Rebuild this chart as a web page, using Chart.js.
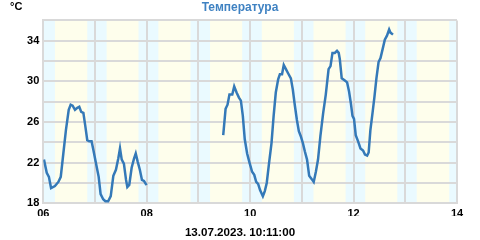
<!DOCTYPE html>
<html>
<head>
<meta charset="utf-8">
<script src="https://cdn.jsdelivr.net/npm/chart.js@4.4.0/dist/chart.umd.min.js"></script>
<style>
  html, body { margin: 0; padding: 0; background: #fff; }
  #wrap { width: 480px; height: 240px; }
</style>
</head>
<body>
<div id="wrap"><canvas id="chartTemp" width="480" height="240"></canvas></div>
<script>
// hours since 06.07 00:00, two recorded stretches with a gap between them
const hours1 = [0.3, 1.6, 2.6, 3.6, 5.4, 7.0, 8.1, 9.3, 10.5, 11.8, 12.7, 13.6, 14.7, 15.8, 16.7, 17.6, 18.6, 19.5, 20.4, 21.3, 22.4, 23.2, 24.4, 25.7, 26.6, 27.8, 28.8, 30.1, 31.3, 32.5, 33.7, 34.8, 35.6, 36.4, 37.4, 38.4, 39.0, 39.9, 41.0, 42.1, 42.9, 43.8, 44.8, 45.8, 46.7, 47.6, 48];
const temps1 = [22.3, 21.0, 20.6, 19.5, 19.7, 20.1, 20.6, 22.9, 25.2, 27.2, 27.7, 27.6, 27.2, 27.4, 27.5, 27.0, 26.9, 25.6, 24.2, 24.1, 24.1, 23.3, 22.0, 20.6, 18.9, 18.4, 18.2, 18.2, 18.7, 20.7, 21.3, 22.4, 23.4, 22.3, 21.9, 20.3, 19.6, 19.8, 21.5, 22.4, 22.9, 22.1, 21.3, 20.3, 20.2, 19.9, 19.8];

const hours2 = [83.5, 84.6, 85.5, 86.4, 87.7, 88.6, 89.7, 90.8, 91.7, 92.6, 93.5, 94.6, 95.7, 96.9, 97.9, 98.8, 99.7, 100.6, 101.9, 102.8, 103.7, 104.8, 105.9, 106.9, 107.9, 109.0, 109.8, 110.8, 111.6, 112.6, 113.6, 114.9, 115.8, 116.7, 117.7, 118.6, 119.5, 120.5, 121.4, 122.4, 123.4, 124.5, 125.5, 126.5, 127.5, 128.6, 129.9, 131.1, 132.4, 133.3, 134.2, 135.3, 136.3, 137.1, 137.6, 138.5, 139.8, 141.0, 141.9, 142.7, 143.5, 144.2, 145.0, 146.1, 147.2, 148.4, 149.3, 150.3, 151.0, 151.8, 152.8, 153.7, 154.6, 155.6, 156.5, 157.4, 158.5, 159.5, 160.5, 161.1, 162.3];
const temps2 = [24.7, 27.3, 27.7, 28.7, 28.7, 29.5, 28.9, 28.4, 28.1, 26.6, 24.3, 22.9, 22.0, 21.1, 20.8, 20.1, 19.9, 19.3, 18.7, 19.2, 20.0, 22.0, 23.9, 26.6, 28.9, 30.2, 30.7, 30.7, 31.6, 31.2, 30.8, 30.3, 29.2, 27.7, 26.2, 25.1, 24.6, 23.9, 23.1, 22.3, 20.7, 20.4, 20.1, 21.1, 22.3, 24.6, 26.9, 28.7, 31.2, 31.5, 32.8, 32.8, 33.0, 32.8, 32.2, 30.3, 30.1, 29.9, 29.0, 27.9, 26.6, 26.3, 24.7, 24.1, 23.4, 23.2, 22.8, 22.7, 23.0, 25.2, 26.9, 28.5, 30.3, 31.9, 32.3, 33.1, 34.1, 34.5, 35.1, 34.8, 34.6];

const xTickLabels = ['06', '08', '10', '12', '14'];
const yTickLabels = ['18', '22', '26', '30', '34'];

// daylight (hour of day) for each of the 8 days shown
const sunrise = [5.4, 5.4, 5.4, 5.4, 5.4, 5.4, 5.4, 5.3];
const sunset  = [20.4, 20.2, 20.3, 20.3, 20.3, 20.3, 20.3, 20.4];

const FONT = "'Liberation Sans', Arial, sans-serif";
const LINE = '#3479b8';
const GRID = '#d9d9d9';

// day / night background bands
const bandsPlugin = {
  id: 'bands',
  beforeDraw(chart) {
    const { ctx, chartArea: a, scales: { x } } = chart;
    ctx.save();
    ctx.fillStyle = '#eafaff';
    ctx.fillRect(a.left, a.top, a.right - a.left, a.bottom - a.top);
    ctx.fillStyle = '#fefeec';
    sunrise.forEach((sr, d) => {
      const x0 = x.getPixelForValue(d * 24 + sr);
      const x1 = x.getPixelForValue(d * 24 + sunset[d]);
      ctx.fillRect(x0, a.top, x1 - x0, a.bottom - a.top);
    });
    // unit label
    ctx.fillStyle = '#000';
    ctx.font = `bold 11px ${FONT}`;
    ctx.textBaseline = 'middle';
    ctx.fillText('°C', 10, 7);
    ctx.restore();
  }
};

const lineStyle = {
  borderColor: LINE, borderWidth: 2.5, pointRadius: 0, tension: 0, fill: false
};

new Chart(document.getElementById('chartTemp'), {
  type: 'line',
  data: {
    datasets: [
      { ...lineStyle, data: hours1.map((h, i) => ({ x: h, y: temps1[i] })) },
      { ...lineStyle, data: hours2.map((h, i) => ({ x: h, y: temps2[i] })) },
    ]
  },
  options: {
    responsive: false, animation: false,
    layout: { padding: { left: 23, right: 23, top: 0, bottom: 0 } },
    plugins: {
      legend: { display: false },
      tooltip: { enabled: false },
      title: {
        display: true, text: 'Температура', color: '#3f82c2',
        font: { family: FONT, size: 12, weight: 'bold' },
        padding: { top: 0, bottom: 6 }
      },
      subtitle: {
        display: true, position: 'bottom', text: '13.07.2023. 10:11:00', color: '#000',
        font: { family: FONT, size: 11.6, weight: 'bold' },
        padding: { top: 10, bottom: 0 }
      }
    },
    scales: {
      x: {
        type: 'linear', min: 0, max: 192,
        afterFit: s => { s.height = 12.8; },
        grid: { color: GRID, lineWidth: 2, drawTicks: false },
        border: { color: GRID, width: 2 },
        ticks: {
          stepSize: 24, autoSkip: false, maxRotation: 0, padding: 4, color: '#000',
          font: { family: FONT, size: 11, weight: 'bold' },
          callback: v => (v % 48 === 0 ? xTickLabels[v / 48] : '')
        }
      },
      y: {
        min: 18, max: 36,
        afterFit: s => { s.width = 20.3; },
        grid: { color: GRID, lineWidth: 2, drawTicks: false },
        border: { color: GRID, width: 2 },
        ticks: {
          stepSize: 2, padding: 4, color: '#000',
          font: { family: FONT, size: 11, weight: 'bold' },
          callback: v => ((v - 18) % 4 === 0 ? yTickLabels[(v - 18) / 4] : '')
        }
      }
    }
  },
  plugins: [bandsPlugin]
});
</script>
</body>
</html>
